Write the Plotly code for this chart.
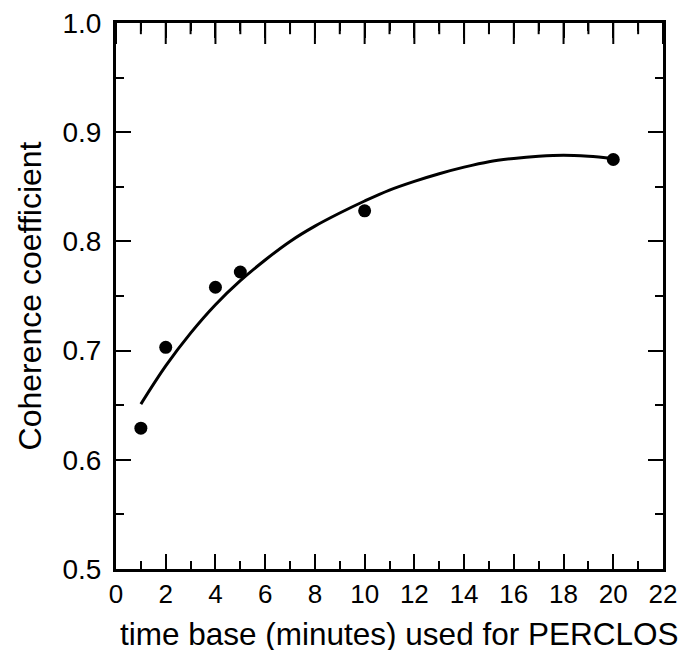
import plotly.graph_objects as go

# Measured data points
time_base = [1, 2, 4, 5, 10, 20]
coherence = [0.629, 0.703, 0.758, 0.772, 0.828, 0.875]

# Fitted curve at every minute
curve_x = [1, 2, 3, 4, 5, 6, 7, 8, 9, 10, 11, 12, 13, 14, 15, 16, 17, 18, 19, 20]
curve_y = [0.651, 0.686, 0.716, 0.742, 0.764, 0.783, 0.800, 0.814, 0.826, 0.837,
           0.847, 0.855, 0.862, 0.868, 0.873, 0.876, 0.878, 0.879, 0.878, 0.876]

x_ticks = list(range(0, 23, 2))
x_minor_ticks = list(range(1, 22, 2))
y_ticks = [0.5, 0.6, 0.7, 0.8, 0.9, 1.0]
y_tick_text = ["0.5", "0.6", "0.7", "0.8", "0.9", "1.0"]
x_range = [0, 22]
y_range = [0.5, 1.0]

fig = go.Figure()
fig.add_trace(go.Scatter(x=curve_x, y=curve_y, mode="lines",
                         line=dict(color="black", width=3, shape="spline", smoothing=1),
                         showlegend=False, hoverinfo="skip"))
fig.add_trace(go.Scatter(x=time_base, y=coherence, mode="markers",
                         marker=dict(color="black", size=13),
                         showlegend=False))

# tick marks along the top frame (half of each symbol is clipped by the plot area)
fig.add_trace(go.Scatter(x=x_ticks, y=[y_range[1]] * len(x_ticks), mode="markers",
                         marker=dict(symbol="line-ns", size=30, line=dict(width=2, color="black")),
                         cliponaxis=True, showlegend=False, hoverinfo="skip"))
fig.add_trace(go.Scatter(x=x_minor_ticks, y=[y_range[1]] * len(x_minor_ticks), mode="markers",
                         marker=dict(symbol="line-ns", size=16, line=dict(width=2, color="black")),
                         cliponaxis=True, showlegend=False, hoverinfo="skip"))

font_family = "Liberation Sans, Arial, sans-serif"
tick_style = dict(ticks="inside", ticklen=15, tickwidth=2, tickcolor="black")

fig.update_layout(
    width=683, height=650,
    margin=dict(l=116, r=20, t=23, b=81),
    paper_bgcolor="white", plot_bgcolor="white",
    font=dict(family=font_family, color="black"),
    xaxis=dict(
        range=x_range, tickvals=x_ticks, ticktext=[str(v) for v in x_ticks],
        showgrid=False, zeroline=False,
        showline=True, linecolor="black", linewidth=3, mirror="allticks",
        **tick_style,
        minor=dict(ticks="inside", ticklen=8, tickwidth=2, tickcolor="black", dtick=1, showgrid=False),
        tickfont=dict(size=26, family=font_family),
        ticklabeloverflow="allow",
        automargin=False,
    ),
    yaxis=dict(
        range=y_range, tickvals=y_ticks, ticktext=y_tick_text,
        showgrid=False, zeroline=False,
        showline=True, linecolor="black", linewidth=3, mirror="allticks",
        **tick_style,
        minor=dict(ticks="inside", ticklen=8, tickwidth=2, tickcolor="black", dtick=0.05, showgrid=False),
        tickfont=dict(size=28, family=font_family),
        ticklabelstandoff=6,
        ticklabeloverflow="allow",
        title=dict(text="Coherence coefficient", font=dict(size=32, family=font_family), standoff=12),
        automargin=False,
    ),
    annotations=[dict(
        text="time base (minutes) used for PERCLOS",
        xref="paper", yref="paper", x=0.517, y=0,
        xanchor="center", yanchor="top", yshift=-45,
        showarrow=False, font=dict(size=31.5, family=font_family, color="black"),
    )],
)

fig.write_html("out.html", config={"displayModeBar": False},
               post_script="document.body.style.margin='0';document.body.style.overflow='hidden';")
